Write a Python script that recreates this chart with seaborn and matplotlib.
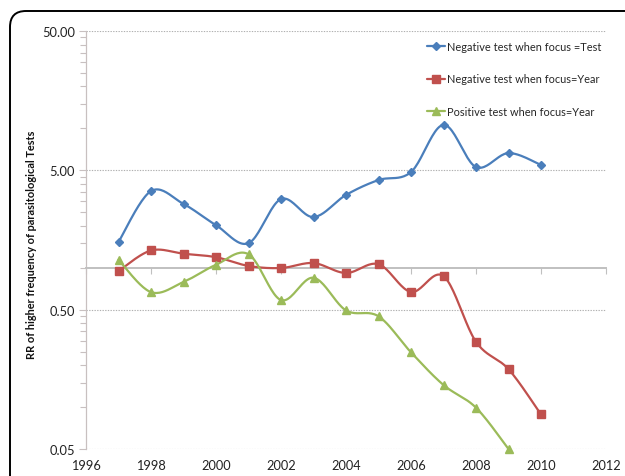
import numpy as np
import pandas as pd
import matplotlib
matplotlib.use("Agg")
import matplotlib.pyplot as plt
import seaborn as sns
from matplotlib.lines import Line2D
from matplotlib.patches import FancyBboxPatch
from matplotlib.ticker import LogLocator, FixedLocator, NullFormatter, FixedFormatter

# ---------------- data ----------------
years_test = list(range(1997, 2011))
neg_focus_test = [1.53, 3.55, 2.87, 2.02, 1.50, 3.11, 2.31, 3.33, 4.26, 4.86, 10.6, 5.28, 6.65, 5.46]

years_neg_year = list(range(1997, 2011))
neg_focus_year = [0.946, 1.33, 1.26, 1.19, 1.03, 0.995, 1.08, 0.916, 1.06, 0.67, 0.87, 0.294, 0.187, 0.0885]

years_pos_year = list(range(1997, 2010))
pos_focus_year = [1.14, 0.668, 0.79, 1.05, 1.25, 0.586, 0.847, 0.494, 0.448, 0.247, 0.144, 0.099, 0.05]

series_names = ["Negative test when focus =Test",
                "Negative test when focus=Year",
                "Positive test when focus=Year"]
colors = ["#4a7ebb", "#c0504d", "#9bbb59"]
markers = ["D", "s", "^"]
marker_sizes = [4, 6, 6]

y_ticks = [0.05, 0.5, 5, 50]
y_tick_labels = ["0.05", "0.50", "5.00", "50.00"]
x_ticks = list(range(1996, 2013, 2))
y_label = "RR of higher frequency of parasitological Tests"

# ---------------- smoothing (Excel-style Bezier in log space) ----------------
def smooth(xs, ys, n=24):
    x = np.asarray(xs, float)
    y = np.log10(np.asarray(ys, float))
    P = np.column_stack([x, y])
    out = []
    m = len(P)
    for i in range(m - 1):
        p0 = P[max(i - 1, 0)]
        p1 = P[i]
        p2 = P[i + 1]
        p3 = P[min(i + 2, m - 1)]
        c1 = p1 + (p2 - p0) / 6.0
        c2 = p2 - (p3 - p1) / 6.0
        t = np.linspace(0, 1, n)[:, None]
        seg = ((1 - t) ** 3) * p1 + 3 * ((1 - t) ** 2) * t * c1 + 3 * (1 - t) * t ** 2 * c2 + t ** 3 * p2
        if i > 0:
            seg = seg[1:]
        out.append(seg)
    out = np.vstack(out)
    return out[:, 0], 10 ** out[:, 1]

all_x = [years_test, years_neg_year, years_pos_year]
all_y = [neg_focus_test, neg_focus_year, pos_focus_year]

curve_frames, point_frames = [], []
for name, xs, ys in zip(series_names, all_x, all_y):
    sx, sy = smooth(xs, ys)
    curve_frames.append(pd.DataFrame({"x": sx, "y": sy, "series": name, "order": np.arange(len(sx))}))
    point_frames.append(pd.DataFrame({"x": xs, "y": ys, "series": name}))
curves = pd.concat(curve_frames, ignore_index=True)
points = pd.concat(point_frames, ignore_index=True)

# ---------------- figure ----------------
sns.set_theme(style="white")
plt.rcParams["font.family"] = ["Lato", "DejaVu Sans"]

W, H = 625, 477
fig = plt.figure(figsize=(W / 100, H / 100), dpi=100)

# rounded outer frame
bg = fig.add_axes([0, 0, 1, 1], zorder=-5)
bg.set_xlim(0, W)
bg.set_ylim(H, 0)
bg.axis("off")
bg.add_patch(FancyBboxPatch((10, 12), 700, 600, boxstyle="round,pad=0,rounding_size=16",
                            facecolor="white", edgecolor="black", linewidth=1.4))

ax = fig.add_axes([86 / W, 1 - 450 / H, (606 - 86) / W, (450 - 32) / H])
ax.patch.set_alpha(0)

ax.set_yscale("log")
ax.set_xlim(1996, 2012)
ax.set_ylim(0.05, 50)

for name, col, mk, ms in zip(series_names, colors, markers, marker_sizes):
    c = curves[curves.series == name]
    sns.lineplot(data=c, x="x", y="y", sort=False, estimator=None, color=col,
                 linewidth=1.6, ax=ax, legend=False, zorder=3)
    p = points[points.series == name]
    ax.plot(p["x"], p["y"], linestyle="none", marker=mk, markersize=ms, color=col,
            markeredgecolor=col, zorder=4, clip_on=False)

# gridlines at decades (dotted)
for yv in y_ticks:
    ax.axhline(yv, color="#b0b0b0", linestyle=(0, (1.2, 1.2)), linewidth=0.8, zorder=1)

# y axis
ax.yaxis.set_major_locator(FixedLocator(y_ticks))
ax.yaxis.set_major_formatter(FixedFormatter(y_tick_labels))
ax.yaxis.set_minor_locator(LogLocator(base=10, subs=np.arange(2, 10) * 0.5, numticks=20))
ax.yaxis.set_minor_formatter(NullFormatter())
ax.tick_params(axis="y", which="major", left=True, length=5, width=0.8, color="#c8c0c0",
               labelsize=9.3, labelcolor="#222222", pad=3)
ax.tick_params(axis="y", which="minor", left=True, length=4, width=0.8, color="#c8c0c0")

for s in ["top", "right"]:
    ax.spines[s].set_visible(False)
ax.spines["left"].set_color("#c8c0c0")
ax.spines["left"].set_linewidth(0.9)

# x axis crossing at y=1
ax.spines["bottom"].set_position(("data", 1))
ax.spines["bottom"].set_color("#c0c0c0")
ax.spines["bottom"].set_linewidth(1.4)
ax.xaxis.set_major_locator(FixedLocator(x_ticks))
ax.tick_params(axis="x", which="both", bottom=True, length=4, width=0.8, color="#c0c0c0",
               labelbottom=False)

sec = ax.secondary_xaxis(0.0)
sec.xaxis.set_major_locator(FixedLocator(x_ticks))
sec.xaxis.set_major_formatter(FixedFormatter([str(v) for v in x_ticks]))
sec.tick_params(axis="x", length=0, labelsize=9.2, labelcolor="#222222", pad=7)
sec.spines["bottom"].set_visible(False)

ax.set_xlabel("")
ax.set_ylabel(y_label, fontsize=7.9, fontweight="bold", color="#111111")
ax.yaxis.set_label_coords(-0.094, 0.49)

handles = [Line2D([0], [0], color=c, marker=m, markersize=ms * 0.9, linewidth=1.6)
           for c, m, ms in zip(colors, markers, marker_sizes)]
leg = ax.legend(handles, series_names, loc="upper left", bbox_to_anchor=(0.655, 0.976),
                frameon=False, fontsize=7.9, handlelength=1.7, handletextpad=0.15,
                labelspacing=1.95, borderpad=0, borderaxespad=0)

fig.savefig("out.png", dpi=100)
